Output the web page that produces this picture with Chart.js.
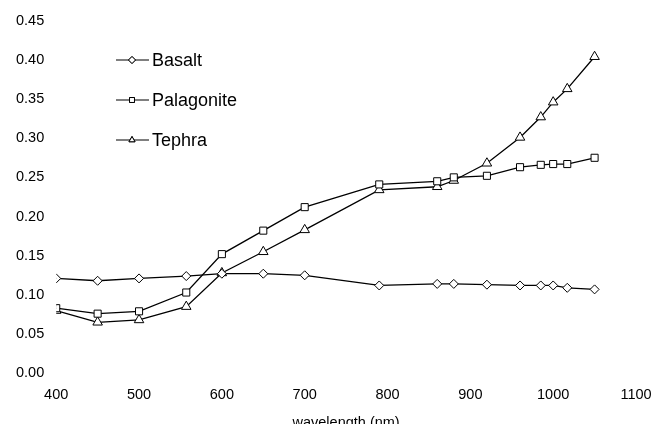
<!DOCTYPE html>
<html>
<head>
<meta charset="utf-8">
<script src="https://cdn.jsdelivr.net/npm/chart.js@4.4.1/dist/chart.umd.min.js"></script>
<style>
    html, body { margin: 0; padding: 0; background: #fff; overflow: hidden; }
    #wrap { position: relative; width: 667px; height: 433px; }
</style>
</head>
<body>
<div id="wrap"><canvas id="grafico"></canvas></div>
<script>
// wavelengths (nm)
var wavelength = [400, 450, 500, 557, 600, 650, 700, 790, 860, 880, 920, 960, 985, 1000, 1017, 1050];
var basalt     = [0.121, 0.118, 0.121, 0.124, 0.127, 0.127, 0.125, 0.112, 0.114, 0.114, 0.113, 0.112, 0.112, 0.112, 0.109, 0.107];
var palagonite = [0.083, 0.076, 0.079, 0.103, 0.152, 0.182, 0.212, 0.241, 0.245, 0.250, 0.252, 0.263, 0.266, 0.267, 0.267, 0.275];
var tephra     = [0.080, 0.065, 0.068, 0.085, 0.128, 0.155, 0.183, 0.234, 0.238, 0.246, 0.268, 0.301, 0.327, 0.346, 0.363, 0.404];
var nomes = ['Basalt', 'Palagonite', 'Tephra'];
var simbolos = ['rectRot', 'rect', 'triangle'];
var raios = [4.5, 5, 5.5];

var fonte = "'Liberation Sans', Arial, sans-serif";

function pontos(valores) {
    return wavelength.map(function (w, i) {
        return {x: w, y: valores[i]};
    });
}

var series = [basalt, palagonite, tephra];
var datasets = series.map(function (s, i) {
    return {
        label: nomes[i],
        data: pontos(s),
        borderColor: '#000',
        borderWidth: 1.3,
        backgroundColor: '#fff',
        pointStyle: simbolos[i],
        pointRadius: raios[i],
        pointBorderWidth: 1,
        pointBorderColor: '#000',
        pointBackgroundColor: '#fff',
        tension: 0,
        fill: false
    };
});

// legenda dentro do grafico, canto superior esquerdo
var legendaInterna = {
    id: 'legendaInterna',
    afterDraw: function (chart) {
        var ctx = chart.ctx;
        ctx.save();
        ctx.font = '18px ' + fonte;
        ctx.fillStyle = '#000';
        ctx.textBaseline = 'middle';
        for (var i = 0; i < nomes.length; i++) {
            var y = 60 + i * 40;
            ctx.strokeStyle = '#000';
            ctx.lineWidth = 1.2;
            ctx.beginPath();
            ctx.moveTo(116, y);
            ctx.lineTo(149, y);
            ctx.stroke();
            ctx.fillStyle = '#fff';
            ctx.lineWidth = 1;
            Chart.helpers.drawPoint(ctx, {pointStyle: simbolos[i], radius: 3.5, borderWidth: 1}, 132, y);
            ctx.fill();
            ctx.stroke();
            ctx.fillStyle = '#000';
            ctx.fillText(nomes[i], 152, y + 1);
        }
        ctx.restore();
    }
};

var ctx = document.getElementById('grafico').getContext('2d');
var myChart = new Chart(ctx, {
    type: 'line',
    data: {datasets: datasets},
    options: {
        responsive: true,
        maintainAspectRatio: false,
        animation: false,
        layout: {padding: {left: 4, right: 31, top: 16, bottom: 1}},
        plugins: {
            legend: {display: false},
            tooltip: {enabled: false}
        },
        scales: {
            x: {
                type: 'linear',
                min: 400,
                max: 1100,
                grid: {display: false, drawTicks: false},
                border: {display: false},
                ticks: {
                    stepSize: 100,
                    color: '#000',
                    padding: 13,
                    maxRotation: 0,
                    font: {family: fonte, size: 14.5},
                    callback: function (v) { return String(v); }
                },
                title: {
                    display: true,
                    text: 'wavelength (nm)',
                    color: '#000',
                    padding: {top: -2, bottom: 0},
                    font: {family: fonte, size: 14.5}
                }
            },
            y: {
                min: 0,
                max: 0.45,
                grid: {display: false, drawTicks: false},
                border: {display: false},
                ticks: {
                    stepSize: 0.05,
                    color: '#000',
                    padding: 12,
                    font: {family: fonte, size: 14.5},
                    callback: function (v) { return v.toFixed(2); }
                }
            }
        }
    },
    plugins: [legendaInterna]
});
</script>
</body>
</html>
